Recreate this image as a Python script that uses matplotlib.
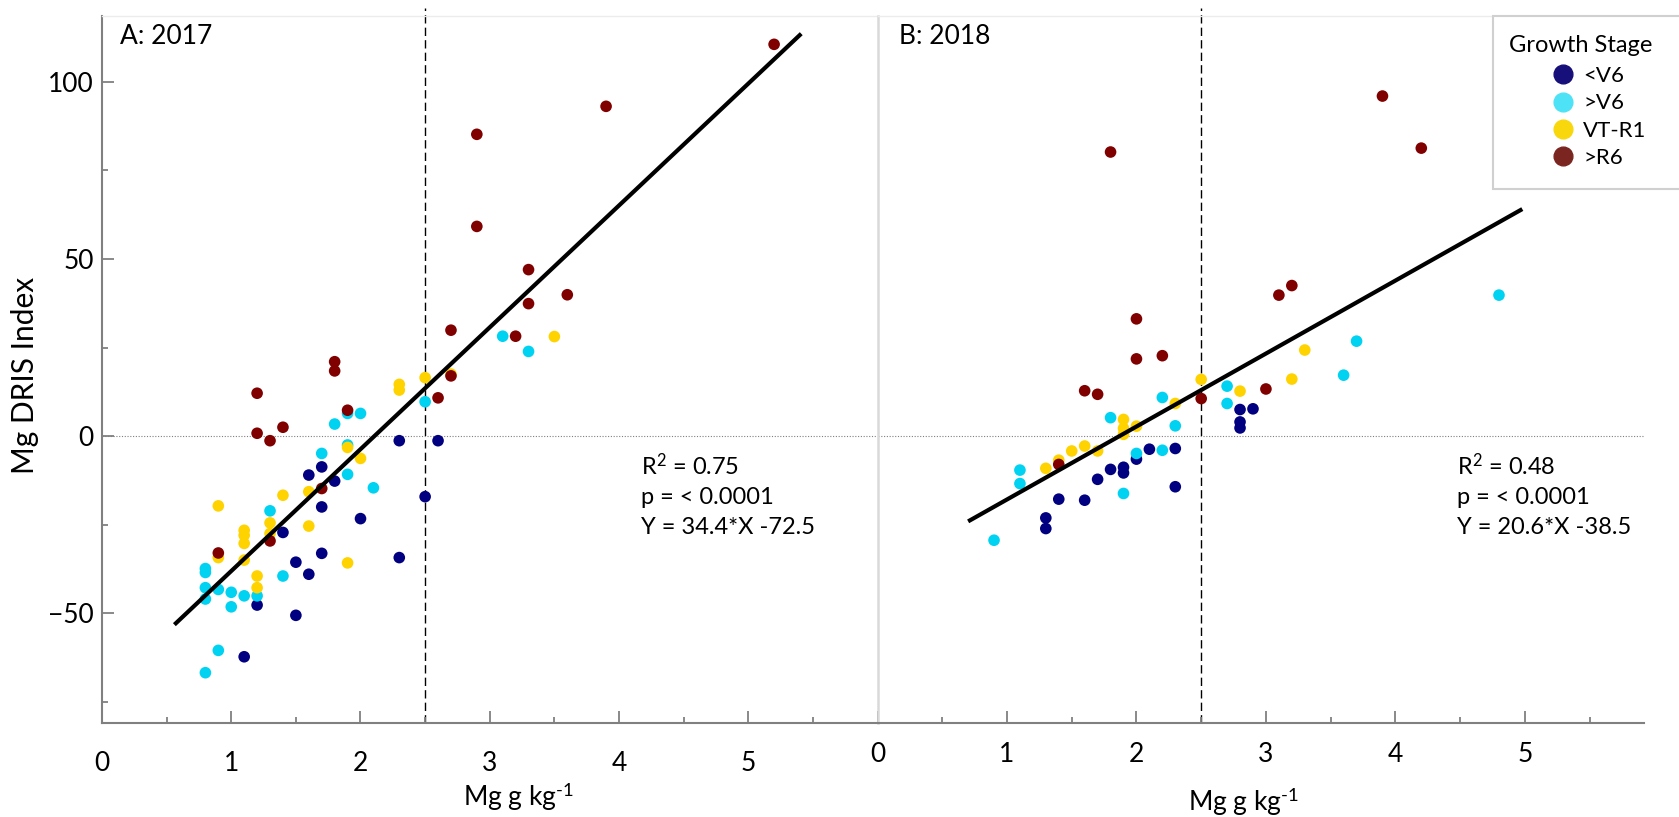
import matplotlib
matplotlib.use('Agg')
import matplotlib.pyplot as plt
from matplotlib.lines import Line2D
from matplotlib.patches import Rectangle

plt.rcParams['font.family'] = ['Lato', 'DejaVu Sans']
plt.rcParams['mathtext.fontset'] = 'custom'
plt.rcParams['mathtext.rm'] = 'Lato'
plt.rcParams['mathtext.it'] = 'Lato:italic'
plt.rcParams['mathtext.bf'] = 'Lato:bold'

# ---- data ----
STAGES = ['<V6', '>V6', 'VT-R1', '>R6']
POINT_COLORS = ['#000080', '#00d2f2', '#ffd300', '#800000']
LEGEND_COLORS = ['#170f7a', '#4de2f5', '#f8d80c', '#7b2520']

# 2017
x17_v6lo = [2.3, 2.6, 1.7, 1.6, 1.8, 2.5, 1.7, 2.0, 1.4, 1.7, 1.5, 2.3, 1.6, 1.2, 1.5, 1.1]
y17_v6lo = [-1.3, -1.3, -8.7, -11.0, -12.7, -17.1, -20.0, -23.3, -27.2, -33.1, -35.6, -34.3, -39.0, -47.7, -50.6, -62.3]
x17_v6hi = [3.1, 3.3, 2.5, 1.9, 2.0, 1.8, 1.9, 1.7, 1.9, 2.1, 1.3, 0.8, 0.8, 1.4, 0.8, 0.9,
            1.0, 1.1, 1.2, 0.8, 1.0, 0.9, 0.8]
y17_v6hi = [28.2, 23.9, 9.7, 6.4, 6.4, 3.4, -2.5, -4.9, -10.8, -14.6, -21.1, -37.4, -38.5, -39.5, -42.8, -43.3,
            -44.1, -45.1, -45.1, -46.0, -48.2, -60.5, -66.8]
x17_vtr1 = [3.5, 2.3, 2.3, 2.5, 2.7, 1.9, 2.0, 1.6, 1.4, 0.9, 1.3, 1.1, 1.1, 1.1, 1.3, 1.6,
            0.9, 1.1, 1.9, 1.2, 1.2]
y17_vtr1 = [28.1, 14.6, 13.0, 16.5, 17.5, -3.2, -6.3, -15.7, -16.7, -19.7, -24.5, -26.6, -28.0, -30.3, -27.5, -25.4,
            -34.3, -35.0, -35.8, -39.5, -42.8]
x17_r6 = [5.2, 3.9, 2.9, 2.9, 3.3, 3.6, 3.3, 2.7, 3.2, 2.7, 2.6, 1.8, 1.8, 1.2, 1.9, 1.2,
          1.4, 1.3, 1.7, 1.3, 0.9]
y17_r6 = [110.6, 93.1, 85.2, 59.2, 47.0, 39.9, 37.4, 29.9, 28.2, 17.0, 10.8, 21.0, 18.4, 12.1, 7.3, 0.8,
          2.5, -1.3, -14.8, -29.6, -33.0]

# 2018
x18_v6lo = [2.8, 2.9, 2.8, 2.8, 2.1, 2.3, 2.0, 1.8, 1.9, 1.9, 1.7, 2.3, 1.4, 1.6, 1.3, 1.3]
y18_v6lo = [7.5, 7.7, 4.0, 2.3, -3.7, -3.5, -6.5, -9.4, -8.8, -10.4, -12.2, -14.3, -17.8, -18.1, -23.1, -26.1]
x18_v6hi = [4.8, 3.7, 3.6, 2.7, 2.7, 2.2, 1.8, 2.3, 2.0, 2.2, 1.1, 1.1, 1.9, 0.9]
y18_v6hi = [39.8, 26.8, 17.2, 14.1, 9.2, 10.9, 5.2, 2.9, -4.9, -4.0, -9.6, -13.4, -16.2, -29.4]
x18_vtr1 = [3.3, 3.2, 2.5, 2.8, 2.3, 1.9, 2.0, 1.9, 1.9, 1.5, 1.6, 1.7, 1.4, 1.3]
y18_vtr1 = [24.3, 16.1, 16.0, 12.7, 9.2, 4.7, 2.8, 2.2, 0.5, -4.2, -2.8, -4.2, -6.8, -9.1]
x18_r6 = [3.9, 4.2, 1.8, 2.0, 2.0, 2.2, 3.1, 3.2, 1.6, 1.7, 2.5, 3.0, 1.4]
y18_r6 = [96.0, 81.3, 80.2, 33.1, 21.8, 22.7, 39.8, 42.5, 12.8, 11.8, 10.6, 13.3, -8.0]

# regression fits: slope, intercept, x extent of the drawn line
fit17 = [34.4, -72.5]
fit17_range = [0.56, 5.41]
fit18 = [20.6, -38.5]
fit18_range = [0.70, 4.98]

stats17 = ['R$^2$ = 0.75', 'p = < 0.0001', 'Y = 34.4*X -72.5']
stats18 = ['R$^2$ = 0.48', 'p = < 0.0001', 'Y = 20.6*X -38.5']

x_ticks = [0, 1, 2, 3, 4, 5]
x_minor = [0.5, 1.5, 2.5, 3.5, 4.5, 5.5]
y_ticks = [-50, 0, 50, 100]
y_minor = [-75, -25, 25, 75]
threshold = 2.5

W, H = 1679, 817
GRAY = '#808080'


def fx(px):
    return px / W


def fy(py):
    return 1 - py / H


fig = plt.figure(figsize=(W / 100, H / 100), dpi=100)
fig.patch.set_facecolor('white')

ax_a = fig.add_axes([fx(102), fy(723), (877.5 - 102) / W, 707 / H])
ax_b = fig.add_axes([fx(877.5), fy(723), (1644 - 877.5) / W, 707 / H])

panels = [
    (ax_a, [x17_v6lo, x17_v6hi, x17_vtr1, x17_r6], [y17_v6lo, y17_v6hi, y17_vtr1, y17_r6],
     fit17, fit17_range, 6.0, 20),
    (ax_b, [x18_v6lo, x18_v6hi, x18_vtr1, x18_r6], [y18_v6lo, y18_v6hi, y18_vtr1, y18_r6],
     fit18, fit18_range, 5.92, 14),
]

for ax, xs, ys, fit, rng, xmax, xpad in panels:
    ax.set_xlim(0, xmax)
    ax.set_ylim(-81, 118.6)
    ax.axhline(0, color=GRAY, lw=0.8, linestyle=(0, (1, 1.5)), zorder=1)
    ax.axvline(threshold, ymax=1.012, color='black', lw=1.0, linestyle=(0, (6, 3)),
               clip_on=False, zorder=1)
    for x, y, c in zip(xs, ys, POINT_COLORS):
        ax.scatter(x, y, s=70, color=c, edgecolors='none', zorder=2)
    line_x = list(rng)
    line_y = [fit[0] * v + fit[1] for v in line_x]
    ax.plot(line_x, line_y, color='black', lw=3.0, solid_capstyle='butt', zorder=3)

    ax.set_xticks(x_ticks)
    ax.set_xticks(x_minor, minor=True)
    ax.tick_params(axis='x', which='major', direction='in', length=8.5, width=1.3,
                   color=GRAY, labelsize=19, pad=xpad)
    ax.tick_params(axis='x', which='minor', direction='in', length=4.5, width=1.3, color=GRAY)
    ax.spines['right'].set_visible(False)
    ax.spines['top'].set_color('#ececec')
    ax.spines['top'].set_linewidth(1.0)
    ax.spines['bottom'].set_color(GRAY)
    ax.spines['bottom'].set_linewidth(1.5)

# panel A y axis
ax_a.set_yticks(y_ticks)
ax_a.set_yticks(y_minor, minor=True)
ax_a.tick_params(axis='y', which='major', direction='in', length=8.5, width=1.3,
                 color=GRAY, labelsize=19, pad=6)
ax_a.tick_params(axis='y', which='minor', direction='in', length=4.0, width=1.3, color=GRAY)
ax_a.spines['left'].set_color(GRAY)
ax_a.spines['left'].set_linewidth(1.5)

# panel B: no y axis, light separator
ax_b.set_yticks([])
ax_b.spines['left'].set_color('#d9d9d9')
ax_b.spines['left'].set_linewidth(1.8)

# panel titles
fig.text(fx(120), fy(37), 'A: 2017', ha='left', va='center', fontsize=19)
fig.text(fx(899), fy(37), 'B: 2018', ha='left', va='center', fontsize=19)

# fit statistics
for px, lines in [(641, stats17), (1457, stats18)]:
    for py, s in zip([466, 497, 528], lines):
        fig.text(fx(px), fy(py), s, ha='left', va='center', fontsize=17)

# axis labels
fig.text(fx(25), fy(375), 'Mg DRIS Index', rotation=90, ha='center', va='center', fontsize=21.5)
fig.text(fx(518), fy(797), 'Mg g kg$^{\\text{-}1}$', ha='center', va='center', fontsize=19)
fig.text(fx(1243), fy(802), 'Mg g kg$^{\\text{-}1}$', ha='center', va='center', fontsize=19)

# legend: frame and title drawn on the figure, entries from a frameless legend
fig.patches.append(Rectangle((fx(1493), fy(189)), fx(1690) - fx(1493), fy(16) - fy(189),
                             transform=fig.transFigure, facecolor='white',
                             edgecolor='#d0d0d0', linewidth=1.5, zorder=5))
fig.text(fx(1509), fy(45), 'Growth Stage', ha='left', va='center', fontsize=17, zorder=6)
handles = [Line2D([], [], marker='o', linestyle='', markersize=13.5,
                  markerfacecolor=c, markeredgecolor=c) for c in LEGEND_COLORS]
leg = fig.legend(handles, STAGES, loc='upper left',
                 bbox_to_anchor=(fx(1552), fy(66)), frameon=False,
                 fontsize=16, labelspacing=0.33,
                 handletextpad=0.41, handlelength=1.0, borderpad=0, borderaxespad=0)
leg.set_zorder(7)

fig.savefig('out.png', dpi=100, facecolor='white')
plt.close(fig)
